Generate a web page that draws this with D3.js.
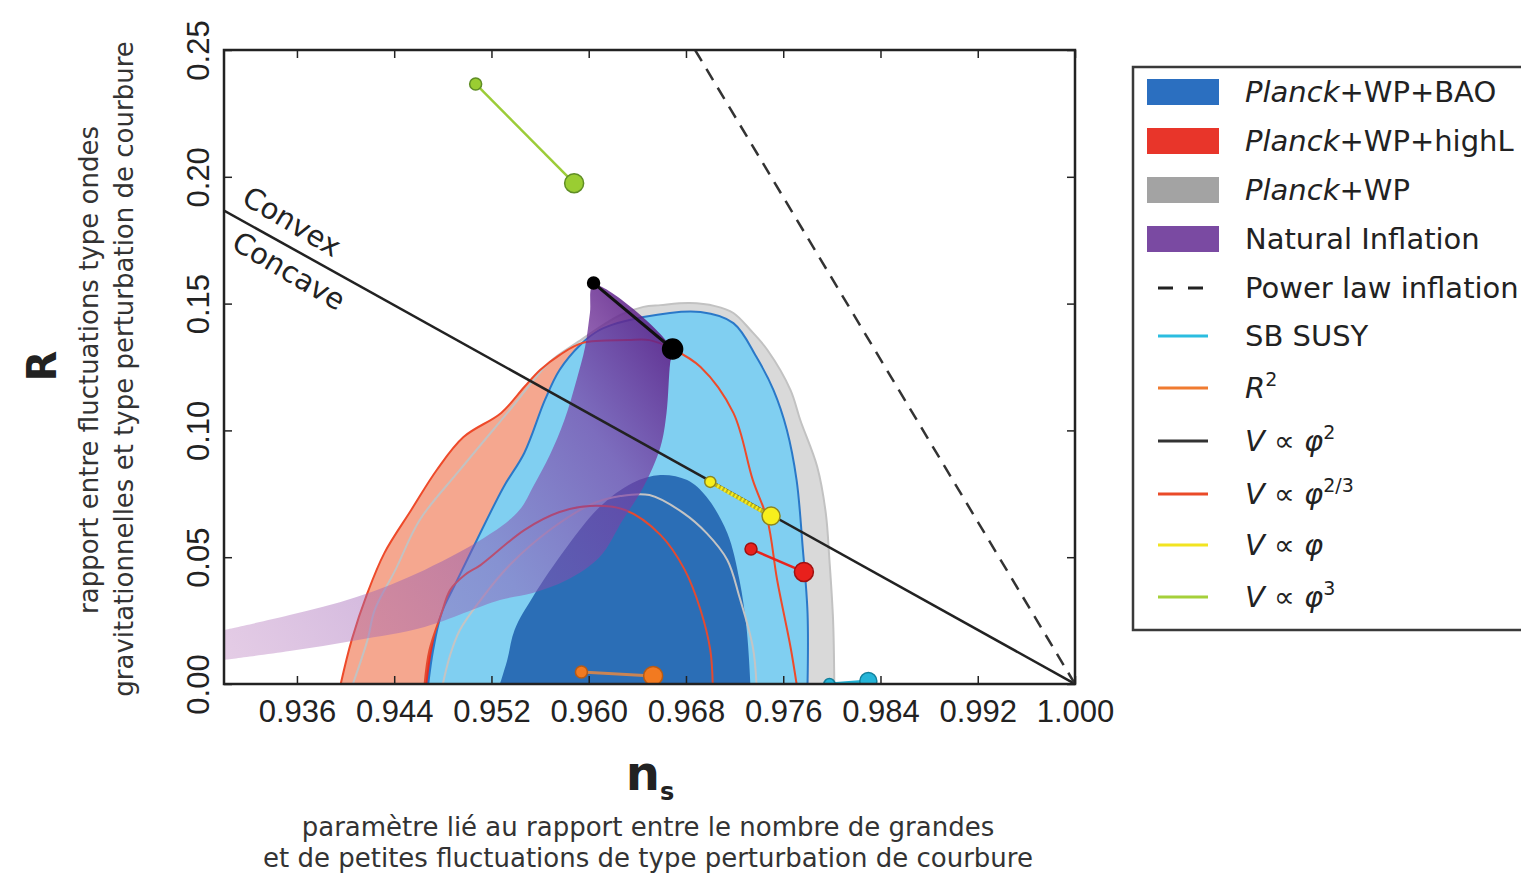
<!DOCTYPE html>
<html><head><meta charset="utf-8">
<script src="https://cdn.jsdelivr.net/npm/d3@7"></script>
<style>body{margin:0;background:#fff;} svg{display:block;}</style>
</head><body>
<svg id="chart" width="1521" height="882"></svg>
<script>
// ---------- DATA ----------
const xTickValues = [0.936, 0.944, 0.952, 0.960, 0.968, 0.976, 0.984, 0.992, 1.000];
const yTickValues = [0.00, 0.05, 0.10, 0.15, 0.20, 0.25];

// Planck+WP (grey) 95% and 68% contours  [n_s, r]
const planckWP95 = [[0.9406,0],[0.9418,0.0173],[0.9424,0.0292],[0.9441,0.0450],[0.9461,0.0647],[0.9494,0.0844],[0.9535,0.1080],[0.9568,0.1270],[0.9590,0.1345],[0.9626,0.1455],[0.9645,0.1487],[0.9659,0.1494],[0.9683,0.1502],[0.9704,0.1490],[0.9719,0.1463],[0.9733,0.1396],[0.9747,0.1317],[0.9766,0.1159],[0.9774,0.1041],[0.9788,0.0856],[0.9795,0.0674],[0.9798,0.0489],[0.9801,0.0252],[0.9802,0]];
const planckWP68 = [[0.9480,0],[0.9486,0.0114],[0.9494,0.0213],[0.9511,0.0331],[0.9535,0.0469],[0.9568,0.0607],[0.9601,0.0706],[0.9626,0.0741],[0.9650,0.0745],[0.9678,0.0674],[0.9697,0.0595],[0.9714,0.0489],[0.9724,0.0343],[0.9735,0.0146],[0.9738,0]];
// Planck+WP+highL (red)
const highL95 = [[0.9396,0],[0.9405,0.0173],[0.9418,0.0359],[0.9432,0.0517],[0.9454,0.0686],[0.9475,0.0844],[0.9497,0.0974],[0.9528,0.1069],[0.9547,0.1171],[0.9560,0.1238],[0.9576,0.1297],[0.9595,0.1345],[0.9632,0.1356],[0.9650,0.1356],[0.9669,0.1321],[0.9692,0.1250],[0.9719,0.1069],[0.9735,0.0804],[0.9747,0.0647],[0.9755,0.0410],[0.9766,0.0146],[0.9771,0]];
const highL68 = [[0.9465,0],[0.9469,0.0134],[0.9479,0.0280],[0.9486,0.0371],[0.9498,0.0430],[0.9511,0.0469],[0.9547,0.0607],[0.9576,0.0678],[0.9601,0.0702],[0.9630,0.0686],[0.9659,0.0588],[0.9679,0.0450],[0.9692,0.0292],[0.9700,0.0134],[0.9702,0]];
// Planck+WP+BAO (blue)
const bao95 = [[0.9468,0],[0.9472,0.0134],[0.9479,0.0280],[0.9489,0.0382],[0.9508,0.0568],[0.9530,0.0777],[0.9547,0.0911],[0.9564,0.1120],[0.9576,0.1238],[0.9593,0.1337],[0.9609,0.1396],[0.9645,0.1447],[0.9692,0.1467],[0.9719,0.1423],[0.9738,0.1289],[0.9752,0.1159],[0.9763,0.1002],[0.9771,0.0804],[0.9776,0.0540],[0.9780,0.0280],[0.9780,0]];
const bao68 = [[0.9527,0],[0.9533,0.0095],[0.9539,0.0213],[0.9554,0.0343],[0.9582,0.0540],[0.9609,0.0698],[0.9636,0.0793],[0.9659,0.0824],[0.9681,0.0804],[0.9697,0.0737],[0.9714,0.0595],[0.9724,0.0410],[0.9730,0.0213],[0.9733,0]];
// Natural inflation band: lower/right edge (left -> top), upper/left edge (top -> left)
const naturalLower = [[0.9300,0.0095],[0.9354,0.0130],[0.9409,0.0173],[0.9465,0.0225],[0.9527,0.0331],[0.9554,0.0359],[0.9582,0.0410],[0.9609,0.0501],[0.9628,0.0647],[0.9645,0.0777],[0.9659,0.0935],[0.9664,0.1069],[0.9667,0.1266],[0.9669,0.1317]];
const naturalUpper = [[0.9604,0.1573],[0.9601,0.1463],[0.9597,0.1329],[0.9590,0.1199],[0.9580,0.1041],[0.9568,0.0903],[0.9555,0.0785],[0.9543,0.0686],[0.9520,0.0595],[0.9465,0.0450],[0.9409,0.0343],[0.9354,0.0272],[0.9300,0.0213]];
// Reference lines
const powerLaw = [[0.96875,0.25],[1.0,0.0]];
const convexConcave = [[0.93,0.1867],[1.0,0.0]];
// Model predictions (N = 50, N = 60)
const sbSusy = [[0.9798,0.0000],[0.9830,0.0012]];
const rSquared = [[0.9594,0.0047],[0.9653,0.0032]];
const phi2 = [[0.9604,0.1581],[0.9669,0.1321]];
const phi23 = [[0.97335,0.0532],[0.9777,0.0442]];
const phi1 = [[0.9700,0.0797],[0.9750,0.0662]];
const phi3 = [[0.9507,0.2366],[0.9588,0.1975]];

const legendLabels = [
  [["Planck","italic"],["+WP+BAO","normal"]],
  [["Planck","italic"],["+WP+highL","normal"]],
  [["Planck","italic"],["+WP","normal"]],
  [["Natural Inflation","normal"]],
  [["Power law inflation","normal"]],
  [["SB SUSY","normal"]],
  [["R","italic"],["2","sup"]],
  [["V","italic"],[" \u221D ","normal"],["\u03C6","italic"],["2","sup"]],
  [["V","italic"],[" \u221D ","normal"],["\u03C6","italic"],["2/3","sup"]],
  [["V","italic"],[" \u221D ","normal"],["\u03C6","italic"]],
  [["V","italic"],[" \u221D ","normal"],["\u03C6","italic"],["3","sup"]]
];

// ---------- LAYOUT ----------
const svg = d3.select("#chart");
const L = 224, R = 1075, T = 50, B = 684;
const x = d3.scaleLinear().domain([0.93, 1.0]).range([L, R]);
const y = d3.scaleLinear().domain([0, 0.25]).range([B, T]);
const ink = "#222";
const tickFont = "'Liberation Sans', Arial, sans-serif";
const textFont = "'DejaVu Sans', sans-serif";

const defs = svg.append("defs");
defs.append("clipPath").attr("id","plotClip").append("rect")
  .attr("x", L).attr("y", T).attr("width", R - L).attr("height", B - T);
const grad = defs.append("linearGradient").attr("id","natGrad")
  .attr("gradientUnits","userSpaceOnUse")
  .attr("x1", x(0.93)).attr("y1", y(0.012))
  .attr("x2", x(0.9669)).attr("y2", y(0.138));
[[0,"#b472b8",0.36],[0.5,"#8c55b3",0.5],[0.78,"#7a3aa3",0.66],[1,"#5c2087",0.9]].forEach(s=>{
  grad.append("stop").attr("offset", s[0]).attr("stop-color", s[1]).attr("stop-opacity", s[2]);
});

const plot = svg.append("g").attr("clip-path","url(#plotClip)");
const curve = d3.line().x(d => x(d[0])).y(d => y(d[1])).curve(d3.curveCatmullRom.alpha(0.5));
const straight = d3.line().x(d => x(d[0])).y(d => y(d[1]));
const closed = data => curve(data) + "Z";

// filled regions
plot.append("path").attr("d", closed(planckWP95)).attr("fill","#d9d9d9");
plot.append("path").attr("d", closed(highL95)).attr("fill","#f5a78f");
plot.append("path").attr("d", closed(highL68)).attr("fill","#e62d24");
plot.append("path").attr("d", closed(bao95)).attr("fill","#80cff1");
plot.append("path").attr("d", closed(bao68)).attr("fill","#2b6eb6");
// contour lines
plot.append("path").attr("d", curve(bao95)).attr("fill","none").attr("stroke","#2a78c8").attr("stroke-width",2);
plot.append("path").attr("d", curve(planckWP95)).attr("fill","none").attr("stroke","#c2c2c2").attr("stroke-width",2);
plot.append("path").attr("d", curve(planckWP68)).attr("fill","none").attr("stroke","#c4c4c4").attr("stroke-width",2);
plot.append("path").attr("d", curve(highL95)).attr("fill","none").attr("stroke","#ee4a2a").attr("stroke-width",2);
plot.append("path").attr("d", curve(highL68)).attr("fill","none").attr("stroke","#e34a30").attr("stroke-width",2);

// natural inflation band
plot.append("path").attr("d", curve(naturalLower.concat(naturalUpper)) + "Z").attr("fill","url(#natGrad)");

// reference lines
plot.append("path").attr("d", straight(convexConcave)).attr("stroke", ink).attr("stroke-width",2.5).attr("fill","none");
plot.append("path").attr("d", straight(powerLaw)).attr("stroke", "#333").attr("stroke-width",2.5)
  .attr("stroke-dasharray","13,9").attr("fill","none");

// model lines + markers
function model(data, lineColor, lineWidth, fill, edge, rSmall, rBig, dash) {
  plot.append("path").attr("d", straight(data)).attr("stroke", lineColor).attr("stroke-width", lineWidth).attr("fill","none");
  if (dash) plot.append("path").attr("d", straight(data)).attr("stroke", dash).attr("stroke-width", lineWidth)
      .attr("stroke-dasharray","2,2").attr("fill","none");
  plot.selectAll(null).data(data).enter().append("circle")
    .attr("cx", d => x(d[0])).attr("cy", d => y(d[1]))
    .attr("r", (d,i) => i === 0 ? rSmall : rBig)
    .attr("fill", fill).attr("stroke", edge).attr("stroke-width", 1.5);
}
model(sbSusy, "#22b2d4", 3, "#25b5d8", "#13809c", 5.5, 8.5);
model(rSquared, "#c98454", 3, "#f27a20", "#b85a14", 6, 9.5);
model(phi23, "#e8241e", 2.5, "#e8201c", "#a01010", 6, 9.5);
model(phi1, "#bdb41a", 4, "#f7ef1d", "#8c8520", 5.5, 9, "#f5ec22");
model(phi3, "#9ccc38", 2.5, "#9acd32", "#5f8d25", 6, 9.5);
model(phi2, "#111", 3, "#000", "#000", 6, 10);

// Convex / Concave labels along the boundary line
const p0 = [x(convexConcave[0][0]), y(convexConcave[0][1])];
const p1 = [x(convexConcave[1][0]), y(convexConcave[1][1])];
const ang = Math.atan2(p1[1]-p0[1], p1[0]-p0[0]) * 180 / Math.PI;
const lbl = svg.append("g").attr("transform", `translate(${p0[0]},${p0[1]}) rotate(${ang + 1.5})`)
  .style("font-family", textFont).style("font-size","29px").attr("fill", ink);
lbl.append("text").attr("x", 10).attr("y", -15).text("Convex");
lbl.append("text").attr("x", 24).attr("y", 29).text("Concave");

// ---------- AXES ----------
const axB = svg.append("g").attr("transform", `translate(0,${B})`)
  .call(d3.axisBottom(x).tickValues(xTickValues).tickFormat(d3.format(".3f")).tickSizeInner(-8).tickSizeOuter(0).tickPadding(16));
const axL = svg.append("g").attr("transform", `translate(${L},0)`)
  .call(d3.axisLeft(y).tickValues(yTickValues).tickFormat(d3.format(".2f")).tickSizeInner(-8).tickSizeOuter(0));
const axT = svg.append("g").attr("transform", `translate(0,${T})`)
  .call(d3.axisTop(x).tickValues(xTickValues).tickFormat(() => "").tickSizeInner(-8).tickSizeOuter(0));
const axR = svg.append("g").attr("transform", `translate(${R},0)`)
  .call(d3.axisRight(y).tickValues(yTickValues).tickFormat(() => "").tickSizeInner(-8).tickSizeOuter(0));
[axB, axL, axT, axR].forEach(a => {
  a.select(".domain").remove();
  a.selectAll(".tick line").attr("stroke", ink).attr("stroke-width", 1.5);
  a.selectAll("text").style("font-family", tickFont).style("font-size","31px").attr("fill", ink);
});
axL.selectAll(".tick text").attr("x", null).attr("dy", null).attr("text-anchor","middle")
  .attr("transform", "translate(-15,0) rotate(-90)");

svg.append("rect").attr("x", L).attr("y", T).attr("width", R - L).attr("height", B - T)
  .attr("fill","none").attr("stroke", ink).attr("stroke-width", 2.5);

// axis titles
svg.append("text").attr("transform","translate(56,366) rotate(-90)").attr("text-anchor","middle")
  .style("font-family", textFont).style("font-size","40px").style("font-weight","bold").attr("fill", ink).text("R");
svg.append("text").attr("transform","translate(98,370) rotate(-90)").attr("text-anchor","middle")
  .style("font-family", textFont).style("font-size","26px").attr("fill","#333")
  .text("rapport entre fluctuations type ondes");
svg.append("text").attr("transform","translate(133,369) rotate(-90)").attr("text-anchor","middle")
  .style("font-family", textFont).style("font-size","26px").attr("fill","#333")
  .text("gravitationnelles et type perturbation de courbure");

const nsT = svg.append("text").attr("x", 650).attr("y", 790).attr("text-anchor","middle")
  .style("font-family", textFont).style("font-weight","bold").attr("fill", ink);
nsT.append("tspan").style("font-size","48px").text("n");
nsT.append("tspan").style("font-size","24px").attr("dy", 10).text("s");
svg.append("text").attr("x", 648).attr("y", 836).attr("text-anchor","middle")
  .style("font-family", textFont).style("font-size","26px").attr("fill","#333")
  .text("paramètre lié au rapport entre le nombre de grandes");
svg.append("text").attr("x", 648).attr("y", 867).attr("text-anchor","middle")
  .style("font-family", textFont).style("font-size","26px").attr("fill","#333")
  .text("et de petites fluctuations de type perturbation de courbure");

// ---------- LEGEND ----------
const legendRowY = [92, 141, 190, 239, 288, 336, 388, 441, 494, 545, 597];
const legendKeys = [
  {type:"rect", color:"#2b6fc0"}, {type:"rect", color:"#e8352a"}, {type:"rect", color:"#a3a3a3"},
  {type:"rect", color:"#7a4aa2"}, {type:"dash", color:"#222"}, {type:"line", color:"#2bbde0"},
  {type:"line", color:"#f07b30"}, {type:"line", color:"#333"}, {type:"line", color:"#ea4a28"},
  {type:"line", color:"#f2e420"}, {type:"line", color:"#a5d03a"}
];
const leg = svg.append("g");
leg.append("rect").attr("x", 1133).attr("y", 67).attr("width", 420).attr("height", 563)
  .attr("fill","#fff").attr("stroke","#3a3a3a").attr("stroke-width", 2.5);
legendLabels.forEach((parts, i) => {
  const cy = legendRowY[i], k = legendKeys[i];
  if (k.type === "rect") {
    leg.append("rect").attr("x", 1147).attr("y", cy - 13).attr("width", 72).attr("height", 26).attr("fill", k.color);
  } else {
    leg.append("line").attr("x1", 1158).attr("x2", 1208).attr("y1", cy).attr("y2", cy)
      .attr("stroke", k.color).attr("stroke-width", 3)
      .attr("stroke-dasharray", k.type === "dash" ? "15,15" : null);
  }
  const t = leg.append("text").attr("x", 1245).attr("y", cy + 10)
    .style("font-family", textFont).style("font-size","29px").attr("fill", ink);
  parts.forEach(([s, st]) => {
    const ts = t.append("tspan").text(s);
    if (st === "italic") ts.style("font-style","italic");
    if (st === "sup") ts.style("font-size","19px").attr("dy", -12);
  });
});
</script>
</body></html>
